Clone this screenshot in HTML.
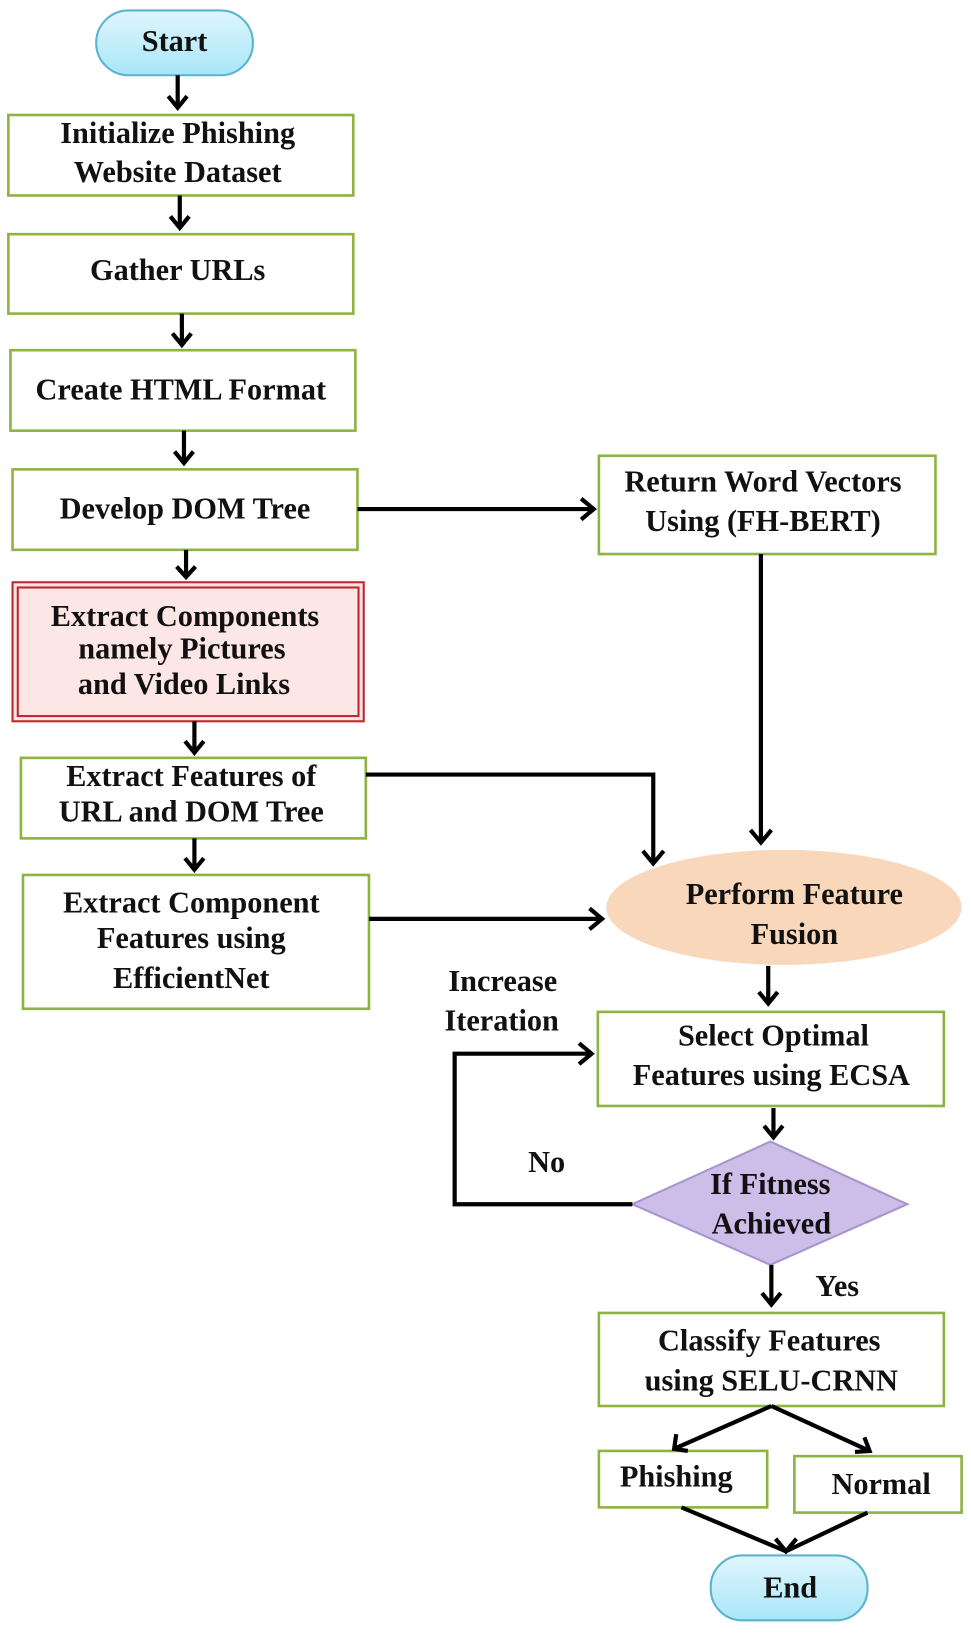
<!DOCTYPE html>
<html><head><meta charset="utf-8"><style>
html,body{margin:0;padding:0;background:#fff}
svg{display:block}
text{font-family:"Liberation Serif",serif;font-weight:bold;font-size:29px;fill:#111;text-anchor:middle}
.b{fill:#fff;stroke:#8db343;stroke-width:2.5}
.l{stroke:#000;stroke-width:4;fill:none}
</style></head><body>
<svg width="971" height="1637" viewBox="0 0 929 1566" preserveAspectRatio="none">
<defs>
<linearGradient id="g" x1="0" y1="0" x2="0" y2="1"><stop offset="0" stop-color="#dff6fd"/><stop offset="1" stop-color="#a9e6f8"/></linearGradient>
</defs>
<rect x="92" y="10" width="150" height="62" rx="31" fill="url(#g)" stroke="#5ab4cf" stroke-width="2"/>
<text x="167" y="49">Start</text>
<rect x="8" y="110" width="330" height="77" class="b"/>
<text x="170" y="137">Initialize Phishing</text><text x="170" y="174">Website Dataset</text>
<rect x="8" y="224" width="330" height="76" class="b"/>
<text x="170" y="268">Gather URLs</text>
<rect x="10" y="335" width="330" height="77" class="b"/>
<text x="173" y="382">Create HTML Format</text>
<rect x="12" y="449" width="330" height="77" class="b"/>
<text x="177" y="496">Develop DOM Tree</text>
<rect x="573" y="436" width="322" height="94" class="b"/>
<text x="730" y="470">Return Word Vectors</text><text x="730" y="508">Using (FH-BERT)</text>
<rect x="12" y="557" width="336" height="133" fill="#fde6e6" stroke="#c0272d" stroke-width="2"/>
<rect x="17" y="562" width="326" height="123" fill="none" stroke="#c0272d" stroke-width="2"/>
<text x="177" y="599">Extract Components</text><text x="174" y="630">namely Pictures</text><text x="176" y="664">and Video Links</text>
<rect x="20" y="725" width="330" height="77" class="b"/>
<text x="183" y="752">Extract Features of</text><text x="183" y="786">URL and DOM Tree</text>
<rect x="22" y="837" width="331" height="128" class="b"/>
<text x="183" y="873">Extract Component</text><text x="183" y="907">Features using</text><text x="183" y="945">EfficientNet</text>
<ellipse cx="750" cy="868" rx="170" ry="55" fill="#f9d7bb"/>
<text x="760" y="865">Perform Feature</text><text x="760" y="903">Fusion</text>
<rect x="572" y="968" width="331" height="90" class="b"/>
<text x="740" y="1000">Select Optimal</text><text x="738" y="1038">Features using ECSA</text>
<polygon points="737,1092 868,1152 737,1210 605,1152" fill="#cdbde9" stroke="#a894cf" stroke-width="2"/>
<text x="737" y="1142">If Fitness</text><text x="738" y="1180">Achieved</text>
<rect x="573" y="1256" width="330" height="89" class="b"/>
<text x="736" y="1292">Classify Features</text><text x="738" y="1330">using SELU-CRNN</text>
<rect x="573" y="1388" width="161" height="54" class="b"/>
<text x="647" y="1422">Phishing</text>
<rect x="760" y="1393" width="160" height="54" class="b"/>
<text x="843" y="1429">Normal</text>
<rect x="680" y="1488" width="150" height="62" rx="30" fill="url(#g)" stroke="#5ab4cf" stroke-width="2"/>
<text x="756" y="1528">End</text>
<text x="481" y="948">Increase</text><text x="480" y="986">Iteration</text>
<text x="523" y="1121">No</text><text x="801" y="1240">Yes</text>
<g class="l">
<path d="M170 72V103M161 92L170 103L179 92"/>
<path d="M172 187V218M163 207L172 218L181 207"/>
<path d="M174 300V330M165 319L174 330L183 319"/>
<path d="M176 412V443M167 432L176 443L185 432"/>
<path d="M178 526V552M169 542L178 552L187 542"/>
<path d="M342 487H568M556 477L568 487L556 497"/>
<path d="M728 530V806M718 794L728 806L738 794"/>
<path d="M186 690V720M177 709L186 720L195 709"/>
<path d="M350 741H625V826M615 814L625 826L635 814"/>
<path d="M186 802V832M177 821L186 832L195 821"/>
<path d="M353 879H576M564 869L576 879L564 889"/>
<path d="M735 924V960M726 949L735 960L744 949"/>
<path d="M740 1060V1088M731 1077L740 1088L749 1077"/>
<path d="M605 1152H435V1008H566M554 998L566 1008L554 1018"/>
<path d="M738 1210V1248M729 1237L738 1248L747 1237"/>
<path d="M738 1345L645 1386M647 1372L645 1386L658 1388"/>
<path d="M738 1345L832 1388M818 1389L832 1388L827 1375"/>
<path d="M652 1442L752 1484M830 1447L752 1484M742 1472L752 1484L762 1472"/>
</g>
</svg>
</body></html>
